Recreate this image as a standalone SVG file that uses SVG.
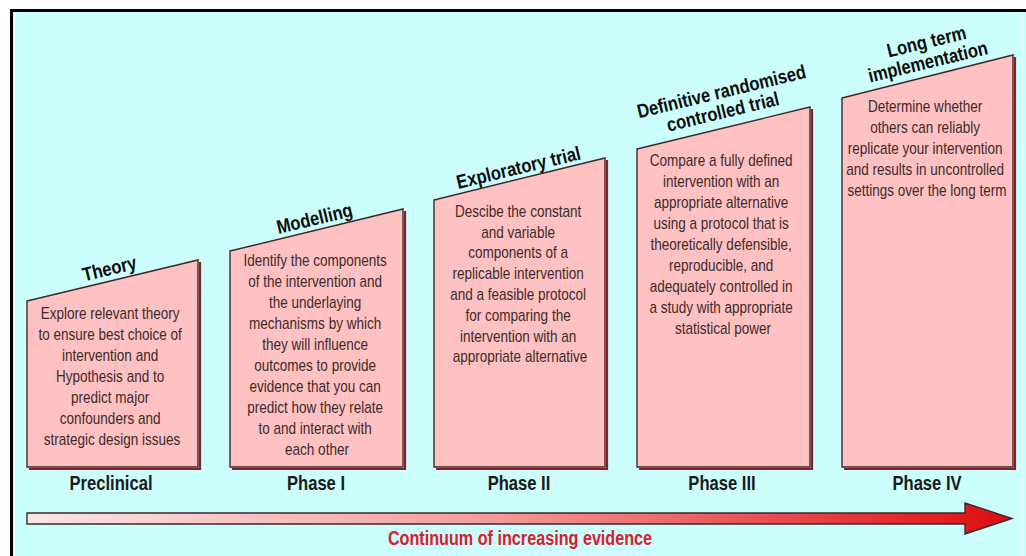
<svg xmlns="http://www.w3.org/2000/svg" width="1026" height="556" viewBox="0 0 1026 556">
  <style>
    .bg { fill: #ccfefe; }
    .box { fill: #ffc1c1; stroke: #3a2a2a; stroke-width: 1.4; }
    .shadow { fill: none; stroke: #8a1f24; stroke-width: 2.2; }
    .body { font-family: "Liberation Sans", Arial, sans-serif; font-size: 16px; fill: #3b2b2b; text-anchor: middle; }
    .title { font-family: "Liberation Sans", Arial, sans-serif; font-size: 19.5px; font-weight: bold; fill: #0d0d0d; text-anchor: middle; }
    .phase { font-family: "Liberation Sans", Arial, sans-serif; font-size: 20px; font-weight: bold; fill: #1a1a1a; text-anchor: middle; }
    .caption { font-family: "Liberation Sans", Arial, sans-serif; font-size: 19.5px; font-weight: bold; fill: #d6202c; text-anchor: middle; }
  </style>
  <defs>
    <linearGradient id="evidence" x1="0" y1="0" x2="1" y2="0">
      <stop offset="0" stop-color="#fde4e4"/>
      <stop offset="0.45" stop-color="#f4a0a0"/>
      <stop offset="1" stop-color="#dd0c10"/>
    </linearGradient>
  </defs>

  <!-- frame -->
  <rect x="0" y="0" width="1026" height="556" fill="#ffffff"/>
  <rect x="10" y="9" width="1016" height="547" class="bg"/>
  <rect x="10" y="9" width="1016" height="3" fill="#000"/>
  <rect x="10" y="9" width="3" height="547" fill="#000"/>
  <line x1="14.5" y1="13.5" x2="1022" y2="13.5" stroke="#e4ffff" stroke-width="1"/>
  <line x1="14.5" y1="13.5" x2="14.5" y2="556" stroke="#e4ffff" stroke-width="1"/>
  <line x1="1022.5" y1="13.5" x2="1022.5" y2="556" stroke="#e4ffff" stroke-width="1"/>

  <!-- Preclinical -->
  <g id="preclinical">
    <polyline class="shadow" points="200,262 200,469 29,469"/>
    <polygon class="box" points="27,301 198,260 198,467 27,467"/>
    <text class="title" transform="translate(111,275) rotate(-13.6) scale(0.85,1)">Theory</text>
    <g transform="translate(112,0) scale(0.845,1)">
      <text class="body">
        <tspan x="0" y="319">Explore relevant theory</tspan>
        <tspan x="0" y="340">to ensure best choice of</tspan>
        <tspan x="0" y="361">intervention and</tspan>
        <tspan x="0" y="382">Hypothesis and to</tspan>
        <tspan x="0" y="403">predict major</tspan>
        <tspan x="0" y="424">confounders and</tspan>
        <tspan x="0" y="445">strategic design issues</tspan>
      </text>
    </g>
    <text class="phase" transform="translate(111,490) scale(0.83,1)">Preclinical</text>
  </g>

  <!-- Phase I -->
  <g id="phase1">
    <polyline class="shadow" points="405,211 405,469 232,469"/>
    <polygon class="box" points="230,251 403,209 403,467 230,467"/>
    <text class="title" transform="translate(316,225) rotate(-13.6) scale(0.85,1)">Modelling</text>
    <g transform="translate(317,0) scale(0.845,1)">
      <text class="body">
        <tspan x="0" y="266">Identify the components</tspan>
        <tspan x="0" y="287">of the intervention and</tspan>
        <tspan x="0" y="308">the underlaying</tspan>
        <tspan x="0" y="329">mechanisms by which</tspan>
        <tspan x="0" y="350">they will influence</tspan>
        <tspan x="0" y="371">outcomes to provide</tspan>
        <tspan x="0" y="392">evidence that you can</tspan>
        <tspan x="0" y="413">predict how they relate</tspan>
        <tspan x="0" y="434">to and interact with</tspan>
        <tspan x="0" y="455">each other</tspan>
      </text>
    </g>
    <text class="phase" transform="translate(316,490) scale(0.83,1)">Phase I</text>
  </g>

  <!-- Phase II -->
  <g id="phase2">
    <polyline class="shadow" points="607,160 607,469 436,469"/>
    <polygon class="box" points="434,200 605,158 605,467 434,467"/>
    <text class="title" transform="translate(520,174) rotate(-13.6) scale(0.85,1)">Exploratory trial</text>
    <g transform="translate(520,0) scale(0.845,1)">
      <text class="body">
        <tspan x="0" y="217">Descibe the constant</tspan>
        <tspan x="0" y="238">and variable</tspan>
        <tspan x="0" y="258">components of a</tspan>
        <tspan x="0" y="279">replicable intervention</tspan>
        <tspan x="0" y="300">and a feasible protocol</tspan>
        <tspan x="0" y="321">for comparing the</tspan>
        <tspan x="0" y="342">intervention with an</tspan>
        <tspan x="0" y="362">appropriate alternative</tspan>
      </text>
    </g>
    <text class="phase" transform="translate(519,490) scale(0.83,1)">Phase II</text>
  </g>

  <!-- Phase III -->
  <g id="phase3">
    <polyline class="shadow" points="812,109 812,469 639,469"/>
    <polygon class="box" points="637,149 810,107 810,467 637,467"/>
    <g class="title" transform="translate(723,98) rotate(-13.6) scale(0.85,1)">
      <text x="0" y="0">Definitive randomised</text>
      <text x="-4" y="20">controlled trial</text>
    </g>
    <g transform="translate(723,0) scale(0.845,1)">
      <text class="body">
        <tspan x="0" y="166">Compare a fully defined</tspan>
        <tspan x="0" y="187">intervention with an</tspan>
        <tspan x="0" y="208">appropriate alternative</tspan>
        <tspan x="0" y="229">using a protocol that is</tspan>
        <tspan x="0" y="250">theoretically defensible,</tspan>
        <tspan x="0" y="271">reproducible, and</tspan>
        <tspan x="0" y="292">adequately controlled in</tspan>
        <tspan x="0" y="313">a study with appropriate</tspan>
        <tspan x="0" y="334">statistical power</tspan>
      </text>
    </g>
    <text class="phase" transform="translate(722,490) scale(0.83,1)">Phase III</text>
  </g>

  <!-- Phase IV -->
  <g id="phase4">
    <polyline class="shadow" points="1015,57 1015,469 844,469"/>
    <polygon class="box" points="842,98 1013,55 1013,467 842,467"/>
    <g class="title" transform="translate(928,48) rotate(-13.6) scale(0.85,1)">
      <text x="0" y="0">Long term</text>
      <text x="-4" y="20">implementation</text>
    </g>
    <g transform="translate(927,0) scale(0.845,1)">
      <text class="body">
        <tspan x="0" y="112">Determine whether</tspan>
        <tspan x="0" y="133">others can reliably</tspan>
        <tspan x="0" y="154">replicate your intervention</tspan>
        <tspan x="0" y="175">and results in uncontrolled</tspan>
        <tspan x="0" y="196">settings over the long term</tspan>
      </text>
    </g>
    <text class="phase" transform="translate(927,490) scale(0.83,1)">Phase IV</text>
  </g>

  <!-- evidence arrow -->
  <g id="connectors">
    <polygon points="27,513 965,513 965,503 1012,518.5 965,534 965,524 27,524" fill="url(#evidence)" stroke="#3a2a2a" stroke-width="1.4" stroke-linejoin="miter"/>
  </g>
  <text class="caption" transform="translate(520,545) scale(0.83,1)">Continuum of increasing evidence</text>
</svg>
